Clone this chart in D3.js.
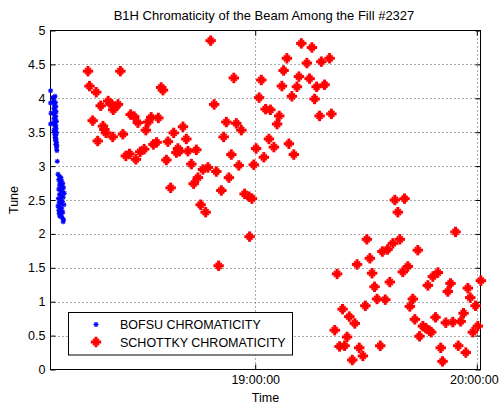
<!DOCTYPE html>
<html><head><meta charset="utf-8">
<script src="https://cdn.jsdelivr.net/npm/d3@7"></script>
<style>
body{margin:0;background:#fff;}
text{font-family:"Liberation Sans",Arial,Helvetica,sans-serif;fill:#000;}
</style></head>
<body><svg id="c" width="500" height="406"></svg>
<script>
// ---- data (time in minutes after 18:00:00, tune) ----
const title = "B1H Chromaticity of the Beam Among the Fill #2327";
const xLabel = "Time";
const yLabel = "Tune";
const seriesNames = ["BOFSU CHROMATICITY", "SCHOTTKY CHROMATICITY"];
const xTickMinutes = [60, 120];
const xTickLabels = ["19:00:00", "20:00:00"];
const yTicks = [0, 0.5, 1, 1.5, 2, 2.5, 3, 3.5, 4, 4.5, 5];
const yTickLabels = ["0", "0.5", "1", "1.5", "2", "2.5", "3", "3.5", "4", "4.5", "5"];
const xDomain = [4.57, 121.0];

const bofsuTime = [4.6,4.6,4.7,4.6,5.2,5.5,5.8,5.4,5.9,5.6,6.0,5.5,5.8,6.1,5.4,5.7,6.0,5.5,5.9,6.2,5.3,5.6,6.0,5.8,6.1,5.5,5.9,6.2,5.7,6.0,5.8,6.1,5.9,6.2,6.0,6.3,6.2,6.3,6.4,
  6.6,7.0,7.4,6.8,7.6,7.2,7.9,7.0,7.5,8.1,6.8,7.3,7.8,8.3,7.0,7.6,8.0,6.7,7.3,7.8,6.9,7.4,8.2,6.6,7.1,7.6,6.8,7.3,7.9,6.9,7.5,7.1,7.7,8.1,8.0];
const bofsuTune = [4.11,3.93,3.78,3.62,4.01,3.99,4.03,3.95,3.94,3.90,3.88,3.85,3.82,3.80,3.78,3.75,3.73,3.70,3.68,3.66,3.64,3.62,3.60,3.58,3.55,3.53,3.51,3.49,3.47,3.45,3.42,3.40,3.38,3.35,3.32,3.30,3.27,3.23,3.07,
  2.88,2.85,2.83,2.80,2.78,2.76,2.74,2.72,2.70,2.68,2.66,2.64,2.62,2.60,2.58,2.56,2.54,2.52,2.50,2.48,2.46,2.44,2.43,2.41,2.39,2.37,2.35,2.33,2.32,2.30,2.28,2.26,2.24,2.21,2.18];

const schottkyTime = [14.72,15.13,16.94,18.16,20.19,21.00,21.95,22.84,21.54,23.49,15.99,18.78,19.16,19.59,17.35,21.41,24.17,26.28,27.23,28.23,
  30.39,31.01,31.83,33.77,24.98,25.95,27.69,28.85,29.93,32.42,33.31,34.53,35.02,35.94,36.37,37.10,37.92,38.65,39.08,39.54,
  40.43,41.35,41.79,42.71,43.33,44.06,44.49,45.85,47.20,47.93,48.88,49.47,50.83,51.45,52.18,52.88,53.53,54.21,54.88,55.56,
  56.24,57.13,58.35,59.11,45.22,46.58,58.48,50.09,59.62,60.24,61.06,61.65,62.33,62.81,64.11,63.71,65.06,65.93,66.50,67.23,
  67.69,68.58,69.12,69.93,70.45,71.29,71.83,72.48,73.99,74.72,75.35,76.08,76.62,77.43,77.89,78.78,80.14,80.62,
  81.54,82.17,82.84,84.20,83.65,84.87,85.47,86.28,86.96,87.58,88.17,89.15,89.82,90.23,91.04,91.64,92.31,92.99,95.21,93.86,
  94.43,95.83,97.27,99.16,96.45,97.81,100.43,98.62,99.97,101.33,101.87,102.68,103.22,104.03,104.49,105.39,106.20,107.20,107.66,106.74,
  108.09,109.45,108.82,110.23,110.72,111.61,112.15,112.88,113.51,114.24,114.97,115.64,116.40,117.02,117.57,118.21,118.92,119.65,120.27,121.10];
const schottkyTune = [4.40,4.18,4.09,3.89,3.96,3.91,3.87,3.91,3.83,4.40,3.67,3.59,3.54,3.49,3.37,3.43,3.47,3.76,3.73,3.64,
  3.53,3.65,3.72,3.71,3.15,3.18,3.10,3.21,3.25,3.32,3.35,4.16,4.12,3.09,3.36,2.68,3.49,3.20,3.26,3.22,
  3.58,3.40,3.22,3.03,2.74,3.24,2.83,2.95,2.98,4.85,3.91,2.92,2.64,3.43,3.65,2.83,3.17,4.30,3.63,3.01,
  3.53,2.59,2.55,2.52,2.43,2.32,1.96,1.53,3.02,3.26,4.01,4.27,3.13,3.84,3.83,3.40,3.28,3.62,3.74,4.18,
  4.41,4.59,3.33,4.03,3.17,4.17,4.32,4.81,4.52,4.29,4.75,3.99,4.17,3.74,4.54,4.20,4.59,3.77,
  0.58,1.41,0.34,0.35,0.89,0.48,0.78,0.14,0.68,1.55,0.32,0.20,0.94,1.92,1.64,1.42,1.22,1.04,1.03,0.35,
  1.74,1.77,1.86,1.92,1.29,2.50,2.52,2.32,1.44,1.52,0.93,1.04,0.74,1.76,0.49,0.64,0.61,0.57,0.55,1.24,
  1.37,1.43,0.77,0.32,0.12,0.69,1.15,1.27,0.70,2.03,0.35,0.71,0.83,0.25,1.20,1.06,0.55,0.94,0.64,1.31];

// ---- drawing ----
const svg = d3.select("#c");
svg.append("rect").attr("width",500).attr("height",406).attr("fill","#fff");
const L = 50.5, R = 480.5, T = 30.5, B = 369.5;
const x = d3.scaleLinear().domain(xDomain).range([L, R]);
const y = d3.scaleLinear().domain([0, 5]).range([B, T]);

// grid
const grid = svg.append("g").attr("stroke","#555").attr("stroke-width",1).attr("stroke-dasharray","1,3").attr("fill","none");
yTicks.filter(v => v > 0 && v < 5).forEach(v => {
  grid.append("line").attr("x1",L).attr("x2",R).attr("y1",Math.round(y(v))+0.5).attr("y2",Math.round(y(v))+0.5);
});
xTickMinutes.forEach(m => {
  grid.append("line").attr("x1",Math.round(x(m))+0.5).attr("x2",Math.round(x(m))+0.5).attr("y1",T).attr("y2",B);
});

// axes
const fmtY = d => yTickLabels[yTicks.indexOf(d)];
const gl = svg.append("g").attr("transform",`translate(${L},0)`)
  .call(d3.axisLeft(y).tickValues(yTicks).tickFormat(fmtY).tickSizeInner(-5).tickSizeOuter(0).tickPadding(5));
const gr = svg.append("g").attr("transform",`translate(${R},0)`)
  .call(d3.axisRight(y).tickValues(yTicks).tickFormat("").tickSizeInner(-5).tickSizeOuter(0));
const gb = svg.append("g").attr("transform",`translate(0,${B})`)
  .call(d3.axisBottom(x).tickValues(xTickMinutes).tickFormat((d,i)=>xTickLabels[i]).tickSizeInner(-5).tickSizeOuter(0).tickPadding(6));
const gt = svg.append("g").attr("transform",`translate(0,${T})`)
  .call(d3.axisTop(x).tickValues(xTickMinutes).tickFormat("").tickSizeInner(-5).tickSizeOuter(0));
[gl,gr,gb,gt].forEach(g => {
  g.select(".domain").remove();
  g.selectAll("line").attr("stroke","#000");
  g.selectAll("text").attr("font-size","12.5px").attr("font-family",'"Liberation Sans",Arial,sans-serif').attr("fill","#000");
});
// keep the last time label inside the picture
gb.selectAll("text").filter((d,i)=>i===xTickMinutes.length-1).attr("dx","-3");
svg.append("rect").attr("x",L).attr("y",T).attr("width",R-L).attr("height",B-T)
  .attr("fill","none").attr("stroke","#000").attr("stroke-width",1);

// markers
function star(g, r1, r2, sw1, sw2, color){
  g.append("line").attr("x1",-r1).attr("x2",r1).attr("y1",0).attr("y2",0).attr("stroke-width",sw1);
  g.append("line").attr("x1",0).attr("x2",0).attr("y1",-r1).attr("y2",r1).attr("stroke-width",sw1);
  g.append("line").attr("x1",-r2).attr("x2",r2).attr("y1",-r2).attr("y2",r2).attr("stroke-width",sw2);
  g.append("line").attr("x1",-r2).attr("x2",r2).attr("y1",r2).attr("y2",-r2).attr("stroke-width",sw2);
  g.attr("stroke",color);
}
const blueData = bofsuTime.map((t,i)=>({t, v:bofsuTune[i]}));
const redData = schottkyTime.map((t,i)=>({t, v:schottkyTune[i]}));

svg.append("g").selectAll("g").data(blueData).join("g")
  .attr("transform", d=>`translate(${x(d.t)},${y(d.v)})`)
  .each(function(){ star(d3.select(this), 2.5, 1.8, 1.2, 1.2, "#0000ff"); });
svg.append("g").selectAll("g").data(redData).join("g")
  .attr("transform", d=>`translate(${x(d.t)},${y(d.v)})`)
  .each(function(){ star(d3.select(this), 5.2, 3.0, 3, 1.8, "#ff0000"); });

// title & labels
svg.append("text").attr("x",264).attr("y",20).attr("text-anchor","middle").attr("font-size","13px").text(title);
svg.append("text").attr("x",(L+R)/2).attr("y",402).attr("text-anchor","middle").attr("font-size","12.5px").text(xLabel);
svg.append("text").attr("transform","translate(18,200) rotate(-90)").attr("text-anchor","middle").attr("font-size","12.5px").text(yLabel);

// legend
const lg = svg.append("g");
lg.append("rect").attr("x",68.5).attr("y",312.5).attr("width",224).attr("height",42.5)
  .attr("fill","#fff").attr("stroke","#000").attr("stroke-width",1);
const legItems = [{name:seriesNames[0], c:"#0000ff", r1:2.5, r2:1.8, s1:1.2, s2:1.2, yy:324.5},
                  {name:seriesNames[1], c:"#ff0000", r1:5.2, r2:3.0, s1:3, s2:1.8, yy:342}];
legItems.forEach(it => {
  const g = lg.append("g").attr("transform",`translate(96,${it.yy})`);
  star(g, it.r1, it.r2, it.s1, it.s2, it.c);
  lg.append("text").attr("x",120).attr("y",it.yy).attr("dy","0.36em").attr("font-size","12.5px").text(it.name);
});
</script></body></html>
